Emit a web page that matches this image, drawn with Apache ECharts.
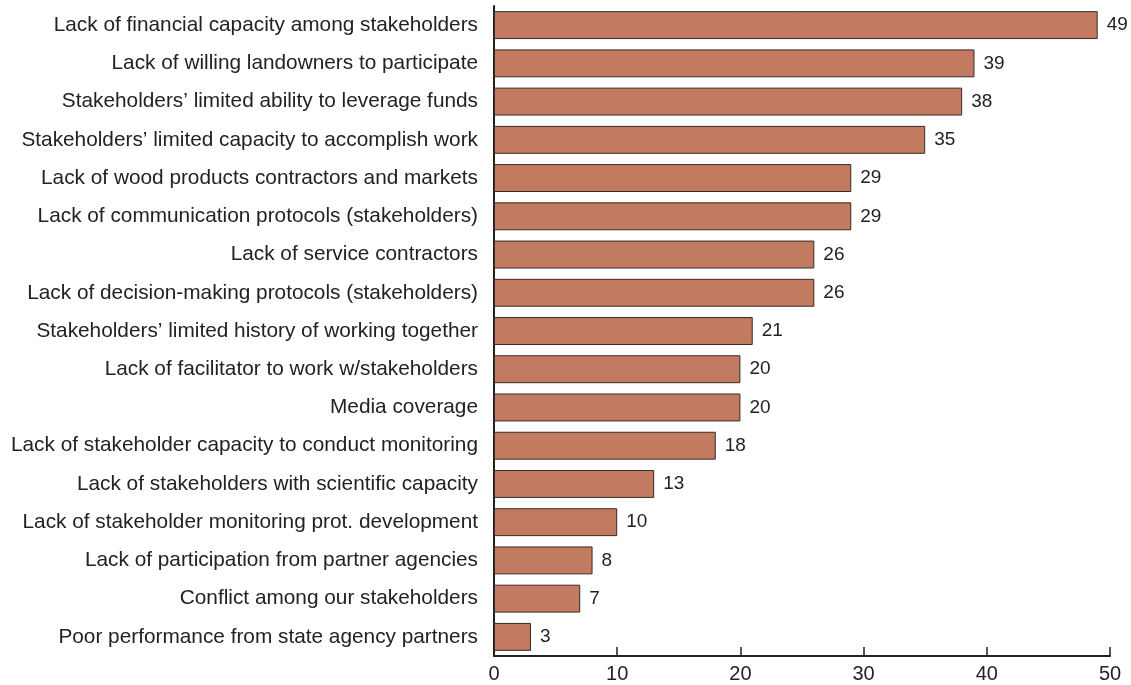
<!DOCTYPE html>
<html><head><meta charset="utf-8">
<script src="https://cdn.jsdelivr.net/npm/echarts@6/dist/echarts.min.js"></script>
<style>html,body{margin:0;padding:0;background:#fff}#c{width:1131px;height:685px}</style>
</head><body><div id="c"></div>
<script>
const categories = [
  "Lack of financial capacity among stakeholders",
  "Lack of willing landowners to participate",
  "Stakeholders\u2019 limited ability to leverage funds",
  "Stakeholders\u2019 limited capacity to accomplish work",
  "Lack of wood products contractors and markets",
  "Lack of communication protocols (stakeholders)",
  "Lack of service contractors",
  "Lack of decision-making protocols (stakeholders)",
  "Stakeholders\u2019 limited history of working together",
  "Lack of facilitator to work w/stakeholders",
  "Media coverage",
  "Lack of stakeholder capacity to conduct monitoring",
  "Lack of stakeholders with scientific capacity",
  "Lack of stakeholder monitoring prot. development",
  "Lack of participation from partner agencies",
  "Conflict among our stakeholders",
  "Poor performance from state agency partners"
];
const values = [49, 39, 38, 35, 29, 29, 26, 26, 21, 20, 20, 18, 13, 10, 8, 7, 3];
const xTicks = [0, 10, 20, 30, 40, 50];

const chart = echarts.init(document.getElementById('c'));
chart.setOption({
  animation: false,
  grid: { left: 494, right: 21, top: 6, bottom: 29, containLabel: false },
  xAxis: {
    type: 'value', min: 0, max: 50, interval: 10,
    axisLine: { show: true, lineStyle: { color: '#222', width: 2 } },
    axisTick: { show: true, inside: true, length: 9, lineStyle: { color: '#222', width: 1.5 } },
    splitLine: { show: false },
    axisLabel: { color: '#222', fontSize: 20, fontFamily: 'Liberation Sans Narrow, Liberation Sans, sans-serif', margin: 8,
      formatter: v => xTicks.includes(v) ? String(v) : '' }
  },
  yAxis: {
    type: 'category', data: categories.slice().reverse(), inverse: false,
    axisLine: { show: true, lineStyle: { color: '#222', width: 2 } },
    axisTick: { show: false },
    axisLabel: { color: '#222', fontSize: 20.8, fontFamily: 'Liberation Sans, Arial, sans-serif', margin: 16 }
  },
  series: [{
    type: 'bar', data: values.slice().reverse(), barCategoryGap: '27%',
    itemStyle: { color: '#c27b60', borderColor: '#3a2a24', borderWidth: 1 },
    label: { show: true, position: 'right', distance: 9, color: '#222', fontSize: 19, fontFamily: 'Liberation Sans, Arial, sans-serif' }
  }]
});
</script></body></html>
